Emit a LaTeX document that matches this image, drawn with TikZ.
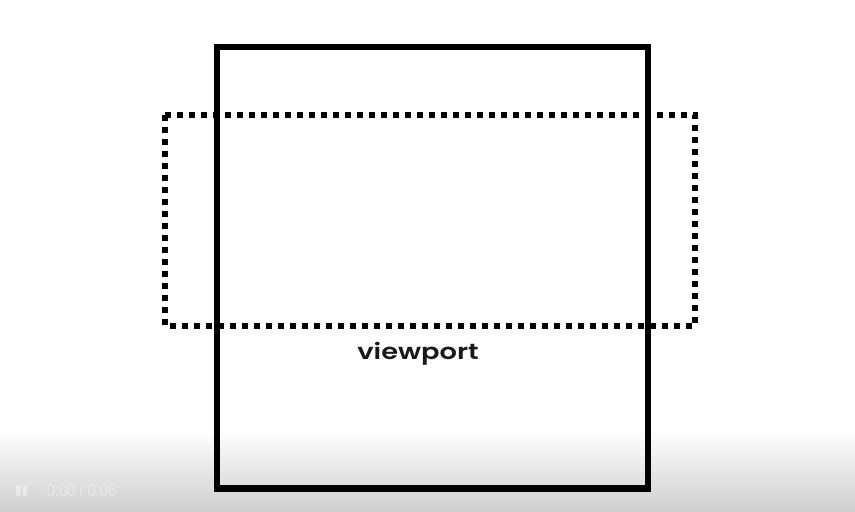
\documentclass[tikz,border=0pt]{standalone}
\usepackage{fontspec}
\setmainfont{Poppins}
\newfontfamily\lblfont{Poppins SemiBold}
\newfontfamily\timefont{Liberation Sans}
\begin{document}
\begin{tikzpicture}[x=0.75pt,y=-0.75pt,
  frame/.style={draw=black,line width=4.6pt},
  dotbox/.style={draw=black,line width=4.5pt,dash pattern=on 4.5pt off 4.5pt},
  lbl/.style={font=\lblfont\fontsize{16.5}{18}\selectfont,text=black!90,xscale=1.24},
  faint/.style={font=\timefont\fontsize{13}{15}\selectfont,text=white,opacity=0.4,xscale=0.84}]
\useasboundingbox (0,0) rectangle (855,511);
\fill[white] (0,0) rectangle (855,511);
\shade[top color=white,bottom color=black!19] (0,430) rectangle (855,511);
\draw[frame] (217,47) rectangle (648,488.5);
\draw[dotbox] (165,115) -- (695,115) -- (695,326) -- (165,326) -- cycle;
\node[lbl] (vp) at (418,354) {viewport};
\fill[white,opacity=0.4] (16,485) rectangle (20.5,496) (22.5,485) rectangle (27,496);
\node[faint,anchor=west,inner sep=0pt] (time) at (47,490.5) {0:00 / 0:06};
\end{tikzpicture}
\end{document}
